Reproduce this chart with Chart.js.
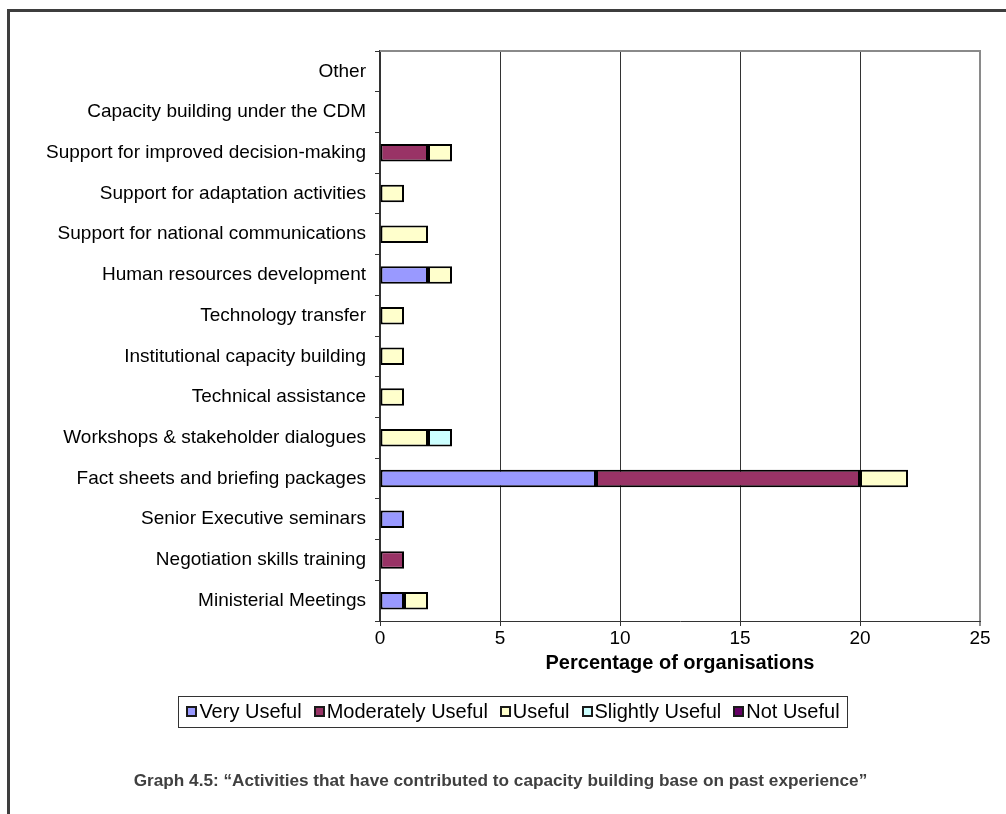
<!DOCTYPE html>
<html>
<head>
<meta charset="utf-8">
<script src="https://cdn.jsdelivr.net/npm/chart.js@4/dist/chart.umd.min.js"></script>
<style>
  html, body { margin: 0; padding: 0; background: #fff; }
  #wrap { position: relative; width: 1006px; height: 814px; overflow: hidden; }
  #frame { position: absolute; left: 7px; top: 9px; width: 1100px; height: 900px;
           border-top: 3px solid #3e3e3e; border-left: 3px solid #3e3e3e; }
  #chart { position: absolute; left: 0; top: 0; }
  #caption { position: absolute; left: 0; width: 1001px; top: 770px; text-align: center;
             font: bold 17.2px "Liberation Sans", Arial, sans-serif;
             color: #404040; }
</style>
</head>
<body>
<div id="wrap">
  <div id="frame"></div>
  <canvas id="chart" width="1006" height="814"></canvas>
  <div id="caption">Graph 4.5: “Activities that have contributed to capacity building base on past experience”</div>
</div>
<script>
// Activities, listed top to bottom
const activities = [
  'Other',
  'Capacity building under the CDM',
  'Support for improved decision-making',
  'Support for adaptation activities',
  'Support for national communications',
  'Human resources development',
  'Technology transfer',
  'Institutional capacity building',
  'Technical assistance',
  'Workshops & stakeholder dialogues',
  'Fact sheets and briefing packages',
  'Senior Executive seminars',
  'Negotiation skills training',
  'Ministerial Meetings'
];

// Percentage of organisations per usefulness rating
const veryUseful       = [0, 0, 0, 0, 0, 2, 0, 0, 0, 0, 9, 1, 0, 1];
const moderatelyUseful = [0, 0, 2, 0, 0, 0, 0, 0, 0, 0, 11, 0, 1, 0];
const useful           = [0, 0, 1, 1, 2, 1, 1, 1, 1, 2, 2, 0, 0, 1];
const slightlyUseful   = [0, 0, 0, 0, 0, 0, 0, 0, 0, 1, 0, 0, 0, 0];
const notUseful        = [0, 0, 0, 0, 0, 0, 0, 0, 0, 0, 0, 0, 0, 0];

const ratingNames  = ['Very Useful', 'Moderately Useful', 'Useful', 'Slightly Useful', 'Not Useful'];
const ratingColors = ['#9999FF', '#993366', '#FFFFCC', '#CCFFFF', '#660066'];
const xTickValues  = [0, 5, 10, 15, 20, 25];

const seriesValues = [veryUseful, moderatelyUseful, useful, slightlyUseful, notUseful];

const datasets = seriesValues.map((values, i) => ({
  label: ratingNames[i],
  data: values,
  backgroundColor: ratingColors[i],
  borderColor: '#000000',
  borderWidth: 2,
  borderSkipped: false,
  barPercentage: 0.43,
  categoryPercentage: 1.0
}));

const FONT = '"Liberation Sans", Arial, sans-serif';

// Top edge of the plot frame (right edge comes from the last x grid line)
const plotFrame = {
  id: 'plotFrame',
  afterDatasetsDraw(chart) {
    const { ctx, chartArea } = chart;
    ctx.save();
    ctx.strokeStyle = '#8a8a8a';
    ctx.lineWidth = 2;
    ctx.beginPath();
    ctx.moveTo(chartArea.left, chartArea.top);
    ctx.lineTo(chartArea.right + 1, chartArea.top);
    ctx.stroke();
    ctx.restore();
  }
};

// Boxed legend row under the axis title
const boxedLegend = {
  id: 'boxedLegend',
  afterDraw(chart, args, opts) {
    const ctx = chart.ctx;
    ctx.save();
    ctx.font = opts.fontSize + 'px ' + FONT;
    const items = chart.data.datasets.map(ds => ({
      text: ds.label,
      fill: ds.backgroundColor,
      w: ctx.measureText(ds.label).width
    }));
    const content = items.reduce((s, it) => s + opts.marker + opts.markerGap + it.w, 0)
                  + opts.itemGap * (items.length - 1);
    const boxW = content + opts.margin * 2;
    const left = opts.centerX - boxW / 2;
    const top = opts.top;
    const midY = top + opts.height / 2;

    ctx.strokeStyle = '#333333';
    ctx.lineWidth = 1;
    ctx.strokeRect(Math.round(left) + 0.5, top + 0.5, Math.round(boxW), opts.height);

    let x = left + opts.margin;
    ctx.textBaseline = 'middle';
    ctx.textAlign = 'left';
    items.forEach(it => {
      const my = Math.round(midY - opts.marker / 2);
      const mx = Math.round(x);
      ctx.fillStyle = it.fill;
      ctx.fillRect(mx, my, opts.marker, opts.marker);
      ctx.strokeStyle = '#1a1a1a';
      ctx.lineWidth = 2;
      ctx.strokeRect(mx + 1, my + 1, opts.marker - 2, opts.marker - 2);
      x += opts.marker + opts.markerGap;
      ctx.fillStyle = '#000000';
      ctx.fillText(it.text, x, midY + 1);
      x += it.w + opts.itemGap;
    });
    ctx.restore();
  }
};

new Chart(document.getElementById('chart'), {
  type: 'bar',
  data: { labels: activities, datasets: datasets },
  options: {
    indexAxis: 'y',
    responsive: false,
    animation: false,
    devicePixelRatio: 1,
    layout: { padding: { left: 0, top: 51, right: 26, bottom: 139 } },
    plugins: {
      legend: { display: false },
      tooltip: { enabled: false },
      boxedLegend: {
        fontSize: 20, marker: 11, markerGap: 2, itemGap: 12, margin: 8,
        centerX: 513, top: 696, height: 31
      }
    },
    scales: {
      x: {
        type: 'linear',
        stacked: true,
        min: 0,
        max: 25,
        afterBuildTicks: (scale) => { scale.ticks = xTickValues.map(v => ({ value: v })); },
        afterFit: (scale) => { scale.height = 54; },
        ticks: { color: '#000', font: { family: FONT, size: 19 }, padding: 1, maxRotation: 0 },
        grid: {
          color: (c) => (c.tick && c.tick.value === 25) ? '#8a8a8a' : '#333333',
          lineWidth: (c) => (c.tick && c.tick.value === 25) ? 2 : 1,
          tickLength: 5,
          drawOnChartArea: true
        },
        border: { color: '#333333', width: 1 },
        title: {
          display: true,
          text: 'Percentage of organisations',
          color: '#000',
          font: { family: FONT, size: 20, weight: 'bold' },
          padding: { top: 0, bottom: 0 }
        }
      },
      y: {
        stacked: true,
        afterFit: (scale) => { scale.width = 380; },
        ticks: { color: '#000', font: { family: FONT, size: 19 }, padding: 9, autoSkip: false },
        grid: { display: true, drawOnChartArea: false, offset: true, tickLength: 5, color: '#333333' },
        border: { color: '#333333', width: 2 }
      }
    }
  },
  plugins: [plotFrame, boxedLegend]
});
</script>
</body>
</html>
